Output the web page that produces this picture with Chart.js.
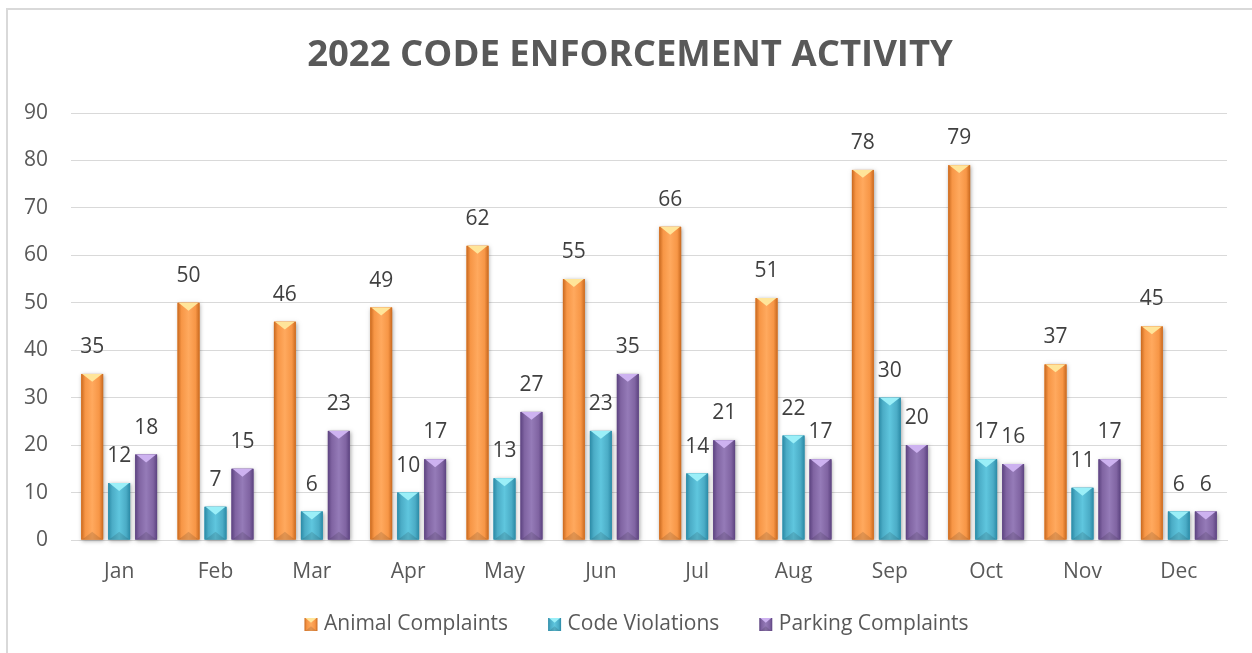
<!DOCTYPE html>
<html lang="en">
<head>
  <meta charset="UTF-8" />
  <title>2022 Code Enforcement Activity</title>
  <script src="https://cdn.jsdelivr.net/npm/chart.js"></script>
  <style>
    html, body {
      margin: 0;
      padding: 0;
      background: #fff;
    }
    .frame {
      position: absolute;
      left: 6px;
      top: 8px;
      width: 1246px;
      height: 645px;
      border-left: 2px solid #d9d9d9;
      border-top: 2px solid #d9d9d9;
      box-sizing: border-box;
    }
    .chart-box {
      position: absolute;
      left: 0;
      top: 0;
      width: 1252px;
      height: 653px;
    }
  </style>
</head>
<body>
  <div class="frame"></div>
  <div class="chart-box">
    <canvas id="activityChart"></canvas>
  </div>

  <script>
    const chartTitle = '2022 CODE ENFORCEMENT ACTIVITY';
    const months = ['Jan', 'Feb', 'Mar', 'Apr', 'May', 'Jun', 'Jul', 'Aug', 'Sep', 'Oct', 'Nov', 'Dec'];
    const animalComplaints = [35, 50, 46, 49, 62, 55, 66, 51, 78, 79, 37, 45];
    const codeViolations = [12, 7, 6, 10, 13, 23, 14, 22, 30, 17, 11, 6];
    const parkingComplaints = [18, 15, 23, 17, 27, 35, 21, 17, 20, 16, 17, 6];

    // base, dark edge, light middle, top facet
    const shades = [
      ['#F79646', '#C9691F', '#FFA95E', '#FFE59A'],
      ['#4BACC6', '#2B8AA6', '#5FC6DE', '#9BEFF8'],
      ['#8064A2', '#5C4380', '#957BB8', '#CDB2F0']
    ];

    const font = "'Open Sans', 'DejaVu Sans', sans-serif";
    const legendGap = 36;   // extra room before each legend box
    const legendBox = 13;

    function bevel(ctx, left, top, right, bottom, sh) {
      const w = right - left;
      const g = ctx.createLinearGradient(left, 0, right, 0);
      g.addColorStop(0, sh[1]);
      g.addColorStop(0.18, sh[0]);
      g.addColorStop(0.5, sh[2]);
      g.addColorStop(0.82, sh[0]);
      g.addColorStop(1, sh[1]);
      ctx.fillStyle = g;
      ctx.fillRect(left, top, w, bottom - top);
      const tri = Math.min(w * 0.36, (bottom - top) / 2);
      ctx.fillStyle = sh[3];
      ctx.beginPath();
      ctx.moveTo(left + 1, top);
      ctx.lineTo(right - 1, top);
      ctx.lineTo(left + w / 2, top + tri);
      ctx.closePath();
      ctx.fill();
      ctx.fillStyle = 'rgba(0,0,0,0.12)';
      ctx.beginPath();
      ctx.moveTo(left + 1, bottom);
      ctx.lineTo(right - 1, bottom);
      ctx.lineTo(left + w / 2, bottom - tri);
      ctx.closePath();
      ctx.fill();
    }

    const bevelBars = {
      id: 'bevelBars',
      afterDatasetsDraw(chart) {
        const ctx = chart.ctx;
        ctx.save();
        chart.data.datasets.forEach((ds, i) => {
          chart.getDatasetMeta(i).data.forEach((bar, j) => {
            const left = bar.x - bar.width / 2;
            const right = bar.x + bar.width / 2;
            ctx.save();
            ctx.shadowColor = 'rgba(0,0,0,0.35)';
            ctx.shadowBlur = 4;
            ctx.shadowOffsetX = 1;
            ctx.shadowOffsetY = 1;
            ctx.fillStyle = shades[i][0];
            ctx.fillRect(left, bar.y, bar.width, bar.base - bar.y);
            ctx.restore();
            bevel(ctx, left, bar.y, right, bar.base, shades[i]);
            ctx.fillStyle = '#404040';
            ctx.font = '21px ' + font;
            ctx.textAlign = 'center';
            ctx.textBaseline = 'middle';
            ctx.fillText(ds.data[j], bar.x, bar.y - 27);
          });
        });
        ctx.restore();
      },
      afterDraw(chart) {
        const ctx = chart.ctx;
        ctx.save();
        ctx.fillStyle = '#595959';
        ctx.font = 'bold 36.5px ' + font;
        ctx.textAlign = 'center';
        ctx.textBaseline = 'middle';
        ctx.fillText(chartTitle, 630, 56);

        const legend = chart.legend;
        if (legend && legend.legendHitBoxes) {
          legend.legendHitBoxes.forEach((hb, i) => {
            const left = hb.left + legendGap + 4;
            const top = hb.top + (hb.height - legendBox) / 2;
            bevel(ctx, left, top, left + legendBox, top + legendBox, shades[i]);
          });
        }
        ctx.restore();
      }
    };

    new Chart('activityChart', {
      type: 'bar',
      data: {
        labels: months,
        datasets: [
          { label: 'Animal Complaints', data: animalComplaints, backgroundColor: shades[0][0] },
          { label: 'Code Violations', data: codeViolations, backgroundColor: shades[1][0] },
          { label: 'Parking Complaints', data: parkingComplaints, backgroundColor: shades[2][0] }
        ]
      },
      options: {
        responsive: true,
        maintainAspectRatio: false,
        animation: false,
        categoryPercentage: 0.84,
        barPercentage: 0.81,
        layout: { padding: { left: 6, right: 25, top: 113, bottom: 8 } },
        plugins: {
          tooltip: { enabled: false },
          title: { display: false },
          legend: {
            position: 'bottom',
            labels: {
              color: '#595959',
              font: { family: font, size: 21 },
              boxWidth: legendGap + legendBox,
              boxHeight: legendBox,
              padding: 0,
              generateLabels(chart) {
                return chart.data.datasets.map((ds, i) => ({
                  text: ds.label,
                  fillStyle: 'rgba(0,0,0,0)',
                  strokeStyle: 'rgba(0,0,0,0)',
                  lineWidth: 0,
                  fontColor: '#595959',
                  hidden: false,
                  datasetIndex: i
                }));
              }
            }
          }
        },
        scales: {
          x: {
            grid: { display: false },
            border: { color: '#d9d9d9', width: 1 },
            ticks: { color: '#595959', font: { family: font, size: 21 }, padding: 11 },
            afterFit(scale) { scale.height = 74; }
          },
          y: {
            min: 0,
            max: 90,
            ticks: { stepSize: 10, color: '#595959', font: { family: font, size: 21 }, padding: 23 },
            grid: { color: '#d9d9d9', drawTicks: false },
            border: { display: false },
            afterFit(scale) { scale.width = 65; }
          }
        }
      },
      plugins: [bevelBars]
    });
  </script>
</body>
</html>
